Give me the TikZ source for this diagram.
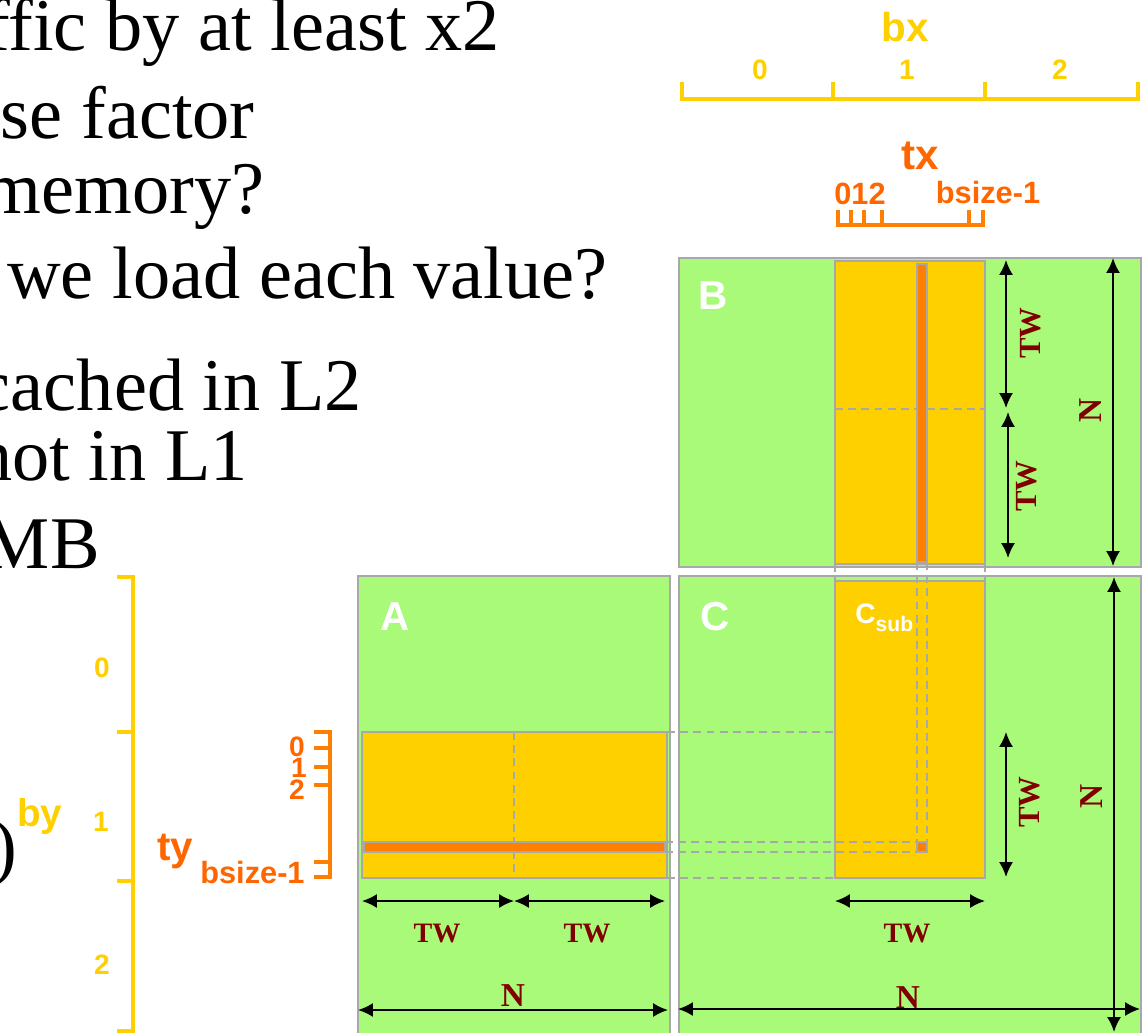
\documentclass[tikz,border=0pt]{standalone}
\usepackage{fontspec}
\setmainfont{Liberation Serif}
\setsansfont{Liberation Sans}
\usetikzlibrary{arrows.meta}

\definecolor{mgreen}{RGB}{168,250,120}
\definecolor{myellow}{RGB}{255,208,0}
\definecolor{morange}{RGB}{255,128,0}
\definecolor{torange}{RGB}{255,102,0}
\definecolor{mgrey}{RGB}{168,168,168}
\definecolor{dred}{RGB}{128,0,0}

\tikzset{
  txt/.style={anchor=base east, inner sep=0pt, font=\fontsize{42.3}{48}\selectfont},
  mat/.style={fill=mgreen, draw=mgrey, line width=1.2pt},
  tile/.style={fill=myellow, draw=mgrey, line width=1.2pt},
  bar/.style={fill=morange, draw=mgrey, line width=1pt},
  guide/.style={draw=mgrey, line width=0.9pt, dash pattern=on 4.5pt off 3pt},
  dim/.style={{Latex[length=8.5pt,width=8pt]}-{Latex[length=8.5pt,width=8pt]}, line width=1.1pt},
  dimlab/.style={text=dred, inner sep=0pt, font=\fontsize{16}{16}\selectfont\bfseries},
  nlab/.style={dimlab, font=\fontsize{19}{19}\selectfont\bfseries},
  upright/.style={rotate=90},
  vtw/.style={dimlab, upright, font=\fontsize{17.5}{17.5}\selectfont\bfseries},
  matname/.style={text=white, inner sep=0pt, font=\fontsize{23}{23}\selectfont\sffamily\bfseries},
  ylab/.style={text=myellow, inner sep=0pt, font=\fontsize{16}{16}\selectfont\sffamily\bfseries},
  olab/.style={text=torange, inner sep=0pt, font=\fontsize{17.5}{17.5}\selectfont\sffamily\bfseries},
  yscale line/.style={draw=myellow, line width=2.8pt},
  oscale line/.style={draw=morange, line width=2.3pt}
}

\begin{document}
\begin{tikzpicture}[x=0.02cm, y=-0.02cm]
  \useasboundingbox (0,0) rectangle (1146,1032);
  \clip (0,0) rectangle (1146,1032);

  % slide text, cut at the left edge
  \node[txt] (l1) at (500,50) {ffic by at least x2};
  \node[txt] (l2) at (255,138) {se factor};
  \node[txt] (l3) at (265,213) {memory?};
  \node[txt] (l4) at (608,298) {we load each value?};
  \node[txt] (l5) at (362,410) {cached in L2};
  \node[txt] (l6) at (248,480) {not in L1};
  \node[txt] (l7) at (100,568) {MB};
  \node[txt] (paren) at (18,871) {)};
  \node[text=myellow, inner sep=0pt, anchor=base west, font=\fontsize{22}{22}\selectfont\sffamily\bfseries] (by) at (17,826) {by};

  % bx scale
  \draw[yscale line] (682,82) -- (682,99) -- (1138,99) -- (1138,82);
  \draw[yscale line] (833,82) -- (833,99) (985,82) -- (985,99);
  \node[ylab, font=\fontsize{23}{23}\selectfont\sffamily\bfseries] (bx) at (905,27) {bx};
  \node[ylab] (bx0) at (760,70) {0};
  \node[ylab] (bx1) at (907,70) {1};
  \node[ylab] (bx2) at (1060,70) {2};

  % tx scale
  \draw[oscale line] (838,210) -- (838,225) -- (983,225) -- (983,210);
  \draw[oscale line] (851,210) -- (851,225) (864,210) -- (864,225)
        (882,210) -- (882,225) (969,210) -- (969,225);
  \node[olab, text=torange, font=\fontsize{24}{24}\selectfont\sffamily\bfseries] (tx) at (920,156) {tx};
  \node[olab] (tx0) at (860,194) {012};
  \node[olab] (txn) at (988,193) {bsize-1};

  % by scale
  \draw[yscale line] (117,577) -- (133,577) -- (133,1031) -- (117,1031);
  \draw[yscale line] (117,732) -- (133,732) (117,881) -- (133,881);
  \node[ylab] (by0) at (102,668) {0};
  \node[ylab] (by1) at (101,822) {1};
  \node[ylab] (by2) at (102,965) {2};

  % ty scale
  \draw[oscale line] (314,732) -- (330,732) -- (330,877) -- (314,877);
  \draw[oscale line] (314,748) -- (330,748) (314,767) -- (330,767)
        (314,785) -- (330,785) (314,862) -- (330,862);
  \node[olab, font=\fontsize{16}{16}\selectfont\sffamily\bfseries] (ty0) at (297,747) {0};
  \node[olab, font=\fontsize{16}{16}\selectfont\sffamily\bfseries] (ty1) at (299,768) {1};
  \node[olab, font=\fontsize{16}{16}\selectfont\sffamily\bfseries] (ty2) at (297,790) {2};
  \node[olab, anchor=base west, font=\fontsize{23}{23}\selectfont\sffamily\bfseries] (ty) at (157,860) {ty};
  \node[olab, anchor=base west] (tyn) at (200,883) {bsize-1};

  % matrices
  \draw[mat] (679,258) rectangle (1141,567);
  \draw[mat] (358,576) rectangle (670,1045);
  \draw[mat] (679,576) rectangle (1141,1045);

  % tiles
  \draw[tile] (835,261) rectangle (985,564);
  \draw[tile] (362,732) rectangle (667,878);
  \draw[tile] (835,581) rectangle (985,878);
  \draw[guide] (835,409) -- (985,409);
  \draw[guide] (514,732) -- (514,878);

  % guides from A and B into C
  \draw[guide] (667,732) -- (835,732) (667,878) -- (835,878);
  \draw[guide] (665,842) -- (917,842) (665,852) -- (917,852);
  \draw[guide] (917,562) -- (917,842) (927,562) -- (927,852);
  \draw[guide] (835,564) -- (835,581) (985,564) -- (985,581);

  % row, column, element
  \draw[bar] (917,264) rectangle (927,562);
  \draw[bar] (364,842) rectangle (665,852);
  \draw[bar] (917,842) rectangle (927,852);

  \node[matname] (nB) at (713,296) {B};
  \node[matname] (nA) at (395,617) {A};
  \node[matname] (nC) at (715,617) {C};
  \node[text=white, inner sep=0pt, anchor=base west, font=\fontsize{16}{16}\selectfont\sffamily\bfseries] (csub) at (855,623)
    {C\raisebox{-0.16cm}{\fontsize{12}{12}\selectfont sub}};

  % dimensions of B
  \coordinate (b1) at (1006,260);
  \coordinate (b2) at (1006,408);
  \coordinate (b3) at (1008,412);
  \coordinate (b4) at (1008,558);
  \coordinate (b5) at (1113,258);
  \coordinate (b6) at (1113,566);
  \draw[dim] (b1) -- (b2);
  \draw[dim] (b3) -- (b4);
  \draw[dim] (b5) -- (b6);
  \node[vtw] (bTW1) at (1031,333) {TW};
  \node[vtw] (bTW2) at (1027,486) {TW};
  \node[nlab, upright] (bN) at (1091,410) {N};

  % dimensions of A
  \coordinate (a1) at (362,901);
  \coordinate (a2) at (514,901);
  \coordinate (a3) at (665,901);
  \coordinate (a4) at (358,1010);
  \coordinate (a5) at (668,1010);
  \draw[dim] (a1) -- (a2);
  \draw[dim] (a2) -- (a3);
  \draw[dim] (a4) -- (a5);
  \node[dimlab] (aTW1) at (437,933) {TW};
  \node[dimlab] (aTW2) at (587,933) {TW};
  \node[nlab] (aN) at (513,996) {N};

  % dimensions of C
  \coordinate (c1) at (1006,732);
  \coordinate (c2) at (1006,877);
  \coordinate (c3) at (835,901);
  \coordinate (c4) at (985,901);
  \coordinate (c5) at (678,1009);
  \coordinate (c6) at (1140,1009);
  \coordinate (c7) at (1114,577);
  \coordinate (c8) at (1114,1032);
  \draw[dim] (c1) -- (c2);
  \draw[dim] (c3) -- (c4);
  \draw[dim] (c5) -- (c6);
  \draw[dim] (c7) -- (c8);
  \node[vtw] (cTW1) at (1030,802) {TW};
  \node[dimlab] (cTW2) at (907,933) {TW};
  \node[nlab] (cN1) at (908,998) {N};
  \node[nlab, upright] (cN2) at (1092,796) {N};
\end{tikzpicture}
\end{document}
